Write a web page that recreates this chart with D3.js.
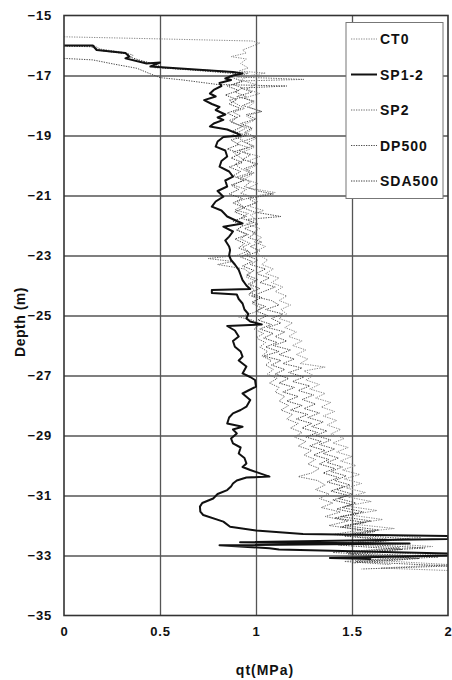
<!DOCTYPE html>
<html>
<head>
<meta charset="utf-8">
<script src="https://cdn.jsdelivr.net/npm/d3@7"></script>
<style>
  html, body { margin: 0; padding: 0; background: #fff; }
  svg { display: block; font-family: "Liberation Sans", Arial, sans-serif; font-weight: bold; }
</style>
</head>
<body>
<svg id="chart" width="452" height="680"></svg>
<script>
// Axis ticks
const depthTicks = [-15, -17, -19, -21, -23, -25, -27, -29, -31, -33, -35];
const qtTicks = [0, 0.5, 1, 1.5, 2];

// Cone resistance profiles: [depth (m), qt (MPa)]
const ct0 = [
  [-15.71,0.00],[-15.78,0.50],[-15.85,0.98],[-15.92,1.02],[-16.05,0.97],[-16.15,0.93],[-16.25,0.95],
  [-16.37,0.87],[-16.45,0.95],[-16.6,0.92],[-16.75,0.96],[-16.85,0.91],[-16.92,1.05],
  [-17.0,0.97],[-17.15,0.92],[-17.3,1.00],[-17.45,0.95],[-17.6,1.02],[-17.75,0.94],[-17.9,0.99],
  [-18.05,0.96],[-18.2,1.03],[-18.35,0.95],[-18.5,0.99],[-18.65,0.93],[-18.8,0.98],[-18.95,0.94],
  [-19.1,1.00],[-19.25,0.95],[-19.4,0.99],[-19.55,0.93],[-19.7,1.02],[-19.85,0.96],[-20.0,1.00],
  [-20.15,0.95],[-20.3,0.98],[-20.45,0.94],[-20.6,1.01],[-20.75,0.96],[-20.9,1.10],[-21.05,0.97],
  [-21.2,1.01],[-21.35,0.96],[-21.5,1.04],[-21.65,0.97],[-21.8,1.00],[-21.95,0.95],[-22.1,1.02],
  [-22.25,0.98],[-22.4,1.03],[-22.55,0.99],[-22.7,1.05],[-22.85,1.00],[-23.0,1.02],[-23.15,1.06],
  [-23.3,1.03],[-23.45,1.09],[-23.6,1.05],[-23.75,1.12],[-23.9,1.08],[-24.05,1.14],[-24.2,1.10],
  [-24.35,1.16],[-24.5,1.12],[-24.65,1.18],[-24.8,1.13],[-24.95,1.16],[-25.1,1.12],[-25.25,1.19],
  [-25.4,1.15],[-25.55,1.21],[-25.7,1.17],[-25.85,1.24],[-26.0,1.19],[-26.15,1.26],[-26.3,1.21],
  [-26.45,1.27],[-26.6,1.23],[-26.72,1.36],[-26.85,1.25],[-27.0,1.30],[-27.15,1.26],[-27.3,1.33],
  [-27.45,1.28],[-27.6,1.36],[-27.75,1.31],[-27.9,1.39],[-28.05,1.34],[-28.2,1.41],[-28.35,1.35],
  [-28.5,1.42],[-28.65,1.37],[-28.8,1.44],[-28.95,1.39],[-29.1,1.46],[-29.25,1.40],[-29.4,1.48],
  [-29.55,1.42],[-29.7,1.50],[-29.85,1.44],[-30.0,1.52],[-30.15,1.45],[-30.3,1.54],[-30.45,1.46],
  [-30.6,1.55],[-30.75,1.47],[-30.9,1.57],[-31.05,1.48],[-31.2,1.60],[-31.35,1.47],[-31.5,1.63],
  [-31.65,1.49],[-31.8,1.66],[-31.95,1.50],[-32.1,1.72],[-32.25,1.50],[-32.4,1.86],[-32.55,1.53],
  [-32.7,1.92],[-32.85,1.55],[-33.0,1.98],[-33.15,1.58],[-33.3,2.00],[-33.42,1.65],[-33.5,2.00]
];

const sp12 = [
  [-16.0,0.00],[-16.0,0.15],[-16.15,0.17],[-16.25,0.32],[-16.37,0.34],[-16.43,0.32],[-16.6,0.43],
  [-16.57,0.50],[-16.7,0.45],[-16.88,0.88],[-16.93,0.93],[-17.0,0.88],[-17.1,0.84],[-17.15,0.87],
  [-17.25,0.81],[-17.35,0.82],[-17.48,0.78],[-17.6,0.76],[-17.7,0.79],[-17.82,0.73],[-17.95,0.77],
  [-18.05,0.81],[-18.15,0.79],[-18.3,0.84],[-18.4,0.80],[-18.48,0.83],[-18.6,0.78],[-18.7,0.76],
  [-18.8,0.85],[-18.93,0.90],[-19.0,0.92],[-19.05,0.83],[-19.2,0.80],[-19.37,0.79],[-19.5,0.84],
  [-19.7,0.85],[-19.85,0.82],[-20.04,0.81],[-20.2,0.86],[-20.37,0.88],[-20.5,0.84],[-20.7,0.85],
  [-20.85,0.80],[-21.04,0.83],[-21.2,0.79],[-21.37,0.77],[-21.5,0.82],[-21.7,0.85],[-21.85,0.90],
  [-21.93,0.93],[-22.04,0.83],[-22.2,0.88],[-22.37,0.86],[-22.5,0.84],[-22.7,0.86],[-22.82,0.865],
  [-23.0,0.86],[-23.15,0.87],[-23.3,0.89],[-23.48,0.91],[-23.65,0.92],[-23.82,0.93],[-24.0,0.95],
  [-24.12,0.97],[-24.15,0.77],[-24.25,0.77],[-24.3,0.90],[-24.45,0.91],[-24.6,0.93],[-24.8,0.94],
  [-24.95,0.96],[-25.1,0.95],[-25.2,0.97],[-25.3,1.03],[-25.35,0.85],[-25.5,0.89],[-25.7,0.91],
  [-25.85,0.88],[-26.04,0.89],[-26.2,0.92],[-26.37,0.93],[-26.5,0.91],[-26.7,0.95],[-26.93,0.93],
  [-27.05,0.97],[-27.15,0.995],[-27.37,1.0],[-27.5,0.96],[-27.6,0.93],[-27.82,0.97],[-28.04,0.95],
  [-28.15,0.92],[-28.26,0.88],[-28.4,0.86],[-28.6,0.85],[-28.71,0.93],[-28.8,0.88],[-28.93,0.90],
  [-29.1,0.87],[-29.26,0.88],[-29.4,0.92],[-29.6,0.91],[-29.75,0.94],[-29.93,0.95],[-30.05,0.93],
  [-30.15,0.97],[-30.37,1.07],[-30.4,0.95],[-30.5,0.90],[-30.6,0.88],[-30.7,0.87],[-30.82,0.85],
  [-30.95,0.80],[-31.1,0.777],[-31.25,0.72],[-31.37,0.708],[-31.54,0.71],[-31.65,0.725],
  [-31.87,0.83],[-32.04,0.865],[-32.17,1.0],[-32.28,1.245],[-32.35,2.0],[-32.45,2.0],[-32.56,0.917],
  [-32.6,1.80],[-32.66,0.81],[-32.76,1.07],[-32.8,1.12],[-32.93,2.0],[-33.0,2.0],[-33.08,1.385],
  [-33.12,1.60]
];

const sp2 = [
  [-16.0,0.00],[-16.02,0.16],[-16.12,0.19],[-16.22,0.30],[-16.32,0.36],[-16.45,0.34],[-16.55,0.42],
  [-16.63,0.48],[-16.74,0.47],[-16.84,0.80],[-16.92,0.96],[-17.05,0.90],[-17.13,1.25],[-17.18,0.93],
  [-17.3,0.88],[-17.42,0.93],[-17.55,0.89],[-17.7,0.95],[-17.82,0.86],[-17.95,0.90],[-18.1,0.94],
  [-18.22,0.88],[-18.35,0.92],[-18.5,0.86],[-18.62,0.90],[-18.75,0.95],[-18.88,0.91],[-19.0,0.87],
  [-19.15,0.93],[-19.28,0.90],[-19.4,0.96],[-19.55,0.88],[-19.7,0.91],[-19.82,0.94],[-19.95,0.89],
  [-20.1,0.92],[-20.25,0.97],[-20.38,0.90],[-20.5,0.93],[-20.65,0.88],[-20.8,0.95],[-20.92,0.92],
  [-21.05,0.98],[-21.2,0.90],[-21.35,0.93],[-21.48,0.89],[-21.6,0.96],[-21.75,0.92],[-21.9,0.99],
  [-22.02,0.93],[-22.15,0.90],[-22.3,0.95],[-22.45,0.92],[-22.6,0.97],[-22.72,0.93],[-22.85,0.96],
  [-23.0,0.90],[-23.1,0.75],[-23.2,0.88],[-23.3,0.80],[-23.45,0.94],[-23.6,0.97],[-23.72,0.95],
  [-23.85,1.00],[-24.0,0.97],[-24.15,0.99],[-24.3,0.96],[-24.45,1.01],[-24.6,0.98],[-24.75,1.03],
  [-24.9,0.99],[-25.05,0.91],[-25.15,0.98],[-25.3,1.02],[-25.45,0.99],[-25.6,1.04],[-25.75,1.00],
  [-25.9,1.05],[-26.05,1.02],[-26.2,1.06],[-26.35,1.03],[-26.5,1.08],[-26.65,1.05],[-26.8,1.09],
  [-26.95,1.06],[-27.1,1.11],[-27.25,1.07],[-27.4,1.12],[-27.55,1.10],[-27.7,1.15],[-27.85,1.12],
  [-28.0,1.17],[-28.15,1.13],[-28.3,1.19],[-28.45,1.16],[-28.6,1.22],[-28.75,1.18],[-28.9,1.24],
  [-29.05,1.20],[-29.2,1.26],[-29.35,1.22],[-29.5,1.29],[-29.65,1.25],[-29.8,1.31],[-29.95,1.27],
  [-30.1,1.33],[-30.25,1.29],[-30.37,1.22],[-30.5,1.32],[-30.65,1.36],[-30.8,1.31],[-30.95,1.38],
  [-31.1,1.33],[-31.25,1.40],[-31.4,1.34],[-31.55,1.44],[-31.7,1.36],[-31.85,1.48],[-32.0,1.38],
  [-32.15,1.55],[-32.3,1.40],[-32.45,1.68],[-32.6,1.43],[-32.75,1.75],[-32.9,1.40],[-33.05,1.80],
  [-33.2,1.46],[-33.3,1.70]
];

const dp500 = [
  [-16.43,0.00],[-16.48,0.15],[-16.62,0.26],[-16.76,0.38],[-16.92,0.44],[-17.07,0.50],[-17.15,0.62],
  [-17.25,0.74],[-17.3,0.80],[-17.35,1.16],[-17.42,0.92],[-17.55,0.98],[-17.7,0.90],[-17.85,0.99],
  [-18.0,0.93],[-18.2,1.03],[-18.3,0.95],[-18.45,1.00],[-18.6,0.92],[-18.75,0.98],[-18.9,0.94],
  [-19.05,1.00],[-19.2,0.93],[-19.35,0.99],[-19.5,0.91],[-19.65,0.97],[-19.8,0.93],[-19.95,1.01],
  [-20.1,0.94],[-20.25,0.99],[-20.4,0.92],[-20.55,0.97],[-20.7,0.94],[-20.85,1.01],[-20.95,1.09],
  [-21.1,0.96],[-21.25,1.00],[-21.4,0.93],[-21.55,0.99],[-21.7,1.13],[-21.8,0.95],[-21.95,1.01],
  [-22.1,0.94],[-22.25,1.00],[-22.4,0.96],[-22.55,1.03],[-22.7,0.97],[-22.85,1.02],[-23.0,0.95],
  [-23.15,1.01],[-23.3,0.97],[-23.45,1.05],[-23.6,1.00],[-23.75,1.07],[-23.9,1.02],[-24.05,1.10],
  [-24.2,1.04],[-24.35,0.98],[-24.5,1.08],[-24.65,1.12],[-24.8,1.05],[-24.95,1.14],[-25.1,1.08],
  [-25.25,1.13],[-25.4,1.06],[-25.55,1.15],[-25.7,1.10],[-25.85,1.16],[-26.0,1.09],[-26.15,1.18],
  [-26.3,1.12],[-26.45,1.20],[-26.6,1.14],[-26.75,1.24],[-26.9,1.17],[-27.05,1.25],[-27.2,1.19],
  [-27.35,1.28],[-27.5,1.22],[-27.65,1.30],[-27.8,1.24],[-27.95,1.31],[-28.1,1.25],[-28.25,1.33],
  [-28.4,1.27],[-28.55,1.35],[-28.7,1.29],[-28.85,1.37],[-29.0,1.31],[-29.15,1.39],[-29.3,1.33],
  [-29.45,1.41],[-29.6,1.35],[-29.75,1.43],[-29.9,1.37],[-30.05,1.45],[-30.2,1.39],[-30.35,1.47],
  [-30.5,1.41],[-30.65,1.49],[-30.8,1.42],[-30.95,1.50],[-31.1,1.43],[-31.25,1.52],[-31.4,1.45],
  [-31.55,1.56],[-31.7,1.44],[-31.85,1.60],[-32.0,1.46],[-32.15,1.64],[-32.3,1.48],[-32.45,1.80],
  [-32.6,1.50],[-32.75,1.88],[-32.9,1.47],[-33.05,1.95],[-33.2,1.52],[-33.35,2.00],[-33.45,1.55]
];

const sda500 = [
  [-16.02,0.00],[-16.04,0.14],[-16.18,0.20],[-16.28,0.33],[-16.4,0.35],[-16.5,0.40],[-16.6,0.46],
  [-16.75,0.52],[-16.86,0.75],[-16.95,0.92],[-17.02,0.86],[-17.2,0.93],[-17.35,0.85],[-17.5,0.91],
  [-17.65,0.84],[-17.8,0.90],[-17.95,0.86],[-18.1,0.92],[-18.25,0.85],[-18.4,0.90],[-18.55,0.87],
  [-18.7,0.93],[-18.85,0.88],[-19.0,0.95],[-19.15,0.87],[-19.3,0.91],[-19.45,0.85],[-19.6,0.92],
  [-19.75,0.87],[-19.9,0.93],[-20.05,0.86],[-20.2,0.92],[-20.35,0.88],[-20.5,0.94],[-20.65,0.87],
  [-20.8,0.91],[-20.95,0.86],[-21.1,0.93],[-21.25,0.88],[-21.4,0.94],[-21.55,0.89],[-21.7,0.95],
  [-21.85,0.88],[-22.0,0.93],[-22.15,0.90],[-22.3,0.96],[-22.45,0.89],[-22.6,0.94],[-22.75,0.91],
  [-22.9,0.97],[-23.05,0.92],[-23.2,0.98],[-23.35,0.93],[-23.5,0.99],[-23.65,0.95],[-23.8,1.01],
  [-23.95,0.96],[-24.1,1.02],[-24.25,0.97],[-24.4,1.03],[-24.55,0.98],[-24.7,1.05],[-24.85,1.00],
  [-25.0,1.06],[-25.15,1.01],[-25.3,1.08],[-25.45,1.02],[-25.6,1.09],[-25.75,1.04],[-25.9,1.11],
  [-26.05,1.05],[-26.2,1.12],[-26.35,1.04],[-26.5,1.13],[-26.65,1.08],[-26.8,1.15],[-26.95,1.10],
  [-27.1,1.17],[-27.25,1.12],[-27.4,1.20],[-27.55,1.14],[-27.7,1.22],[-27.85,1.16],[-28.0,1.24],
  [-28.15,1.18],[-28.3,1.27],[-28.45,1.21],[-28.6,1.29],[-28.75,1.24],[-28.9,1.32],[-29.05,1.26],
  [-29.2,1.34],[-29.35,1.28],[-29.5,1.36],[-29.65,1.30],[-29.8,1.38],[-29.95,1.33],[-30.1,1.41],
  [-30.25,1.35],[-30.4,1.43],[-30.55,1.37],[-30.7,1.46],[-30.85,1.39],[-31.0,1.48],[-31.15,1.40],
  [-31.3,1.50],[-31.45,1.42],[-31.6,1.53],[-31.75,1.41],[-31.9,1.57],[-32.05,1.44],[-32.2,1.62],
  [-32.35,1.46],[-32.5,1.70],[-32.65,1.43],[-32.8,1.76],[-32.95,1.48],[-33.1,1.85],[-33.25,1.50]
];

const seriesNames = ["CT0", "SP1-2", "SP2", "DP500", "SDA500"];
const seriesData = [ct0, sp12, sp2, dp500, sda500];
const seriesStyle = [
  { color: "#8a8a8a", width: 1, dash: "1.3,1.2" },
  { color: "#111111", width: 2, dash: null },
  { color: "#6a6a6a", width: 1, dash: "1.3,1.2" },
  { color: "#4a4a4a", width: 1, dash: "1.3,1.2" },
  { color: "#3a3a3a", width: 1, dash: "1.3,1.2" }
];

const svg = d3.select("#chart");
const plotLeft = 64, plotRight = 448, plotTop = 15.5, plotBottom = 615.5;

const x = d3.scaleLinear().domain([0, 2]).range([plotLeft, plotRight]);
const y = d3.scaleLinear().domain([-35, -15]).range([plotBottom, plotTop]);

svg.append("defs").append("clipPath").attr("id", "plotClip")
  .append("rect").attr("x", plotLeft).attr("y", plotTop)
  .attr("width", plotRight - plotLeft).attr("height", plotBottom - plotTop);

// Grid lines
const gridX = svg.append("g").attr("transform", `translate(0,${plotBottom})`)
  .call(d3.axisBottom(x).tickValues(qtTicks.slice(1, -1)).tickSize(-(plotBottom - plotTop)).tickFormat(""));
const gridY = svg.append("g").attr("transform", `translate(${plotLeft},0)`)
  .call(d3.axisLeft(y).tickValues(depthTicks.slice(1, -1)).tickSize(-(plotRight - plotLeft)).tickFormat(""));
[gridX, gridY].forEach(g => {
  g.select(".domain").remove();
  g.selectAll(".tick line").attr("stroke", "#555").attr("stroke-width", 1.3);
});

// Profiles
const line = d3.line().x(d => x(d[1])).y(d => y(d[0]));
const plot = svg.append("g").attr("clip-path", "url(#plotClip)");
const order = [0, 2, 3, 4, 1];
order.forEach(i => {
  const st = seriesStyle[i];
  plot.append("path")
    .datum(seriesData[i])
    .attr("fill", "none")
    .attr("stroke", st.color)
    .attr("stroke-width", st.width)
    .attr("stroke-linejoin", "round")
    .attr("stroke-dasharray", st.dash)
    .attr("d", line);
});

// Frame
svg.append("rect").attr("x", plotLeft).attr("y", plotTop)
  .attr("width", plotRight - plotLeft).attr("height", plotBottom - plotTop)
  .attr("fill", "none").attr("stroke", "#333").attr("stroke-width", 1.6);

// Axis labels
const yAxis = svg.append("g").attr("transform", `translate(${plotLeft},0)`)
  .call(d3.axisLeft(y).tickValues(depthTicks).tickSize(0).tickPadding(12)
    .tickFormat(d => String(d).replace("-", "\u2212")));
const xAxis = svg.append("g").attr("transform", `translate(0,${plotBottom})`)
  .call(d3.axisBottom(x).tickValues(qtTicks).tickSize(0).tickPadding(11)
    .tickFormat(d => String(d)));
[xAxis, yAxis].forEach(g => {
  g.select(".domain").remove();
  g.selectAll("text").attr("fill", "#111").style("font-size", "13px")
    .style("font-weight", "bold").style("font-family", "'Liberation Sans', Arial, sans-serif")
    .style("letter-spacing", "0.8px");
});

svg.append("text").attr("x", 265).attr("y", 675).attr("text-anchor", "middle")
  .attr("fill", "#111").style("font-size", "14px").style("letter-spacing", "1px")
  .text("qt(MPa)");
svg.append("text").attr("transform", "translate(25,322) rotate(-90)").attr("text-anchor", "middle")
  .attr("fill", "#111").style("font-size", "14px").style("letter-spacing", "0.5px")
  .text("Depth (m)");

// Legend
const legend = svg.append("g");
legend.append("rect").attr("x", 346).attr("y", 22.5).attr("width", 97).attr("height", 176)
  .attr("fill", "#fff").attr("stroke", "#777").attr("stroke-width", 1);
const legendY = d3.scalePoint().domain(seriesNames).range([39, 181]);
seriesNames.forEach((name, i) => {
  const st = seriesStyle[i];
  const ly = legendY(name);
  legend.append("line").attr("x1", 351).attr("x2", 377).attr("y1", ly).attr("y2", ly)
    .attr("stroke", st.color).attr("stroke-width", st.width).attr("stroke-dasharray", st.dash);
  legend.append("text").attr("x", 380).attr("y", ly).attr("dy", "0.36em")
    .attr("fill", "#111").style("font-size", "14px").style("letter-spacing", "1px")
    .text(name);
});
</script>
</body>
</html>
